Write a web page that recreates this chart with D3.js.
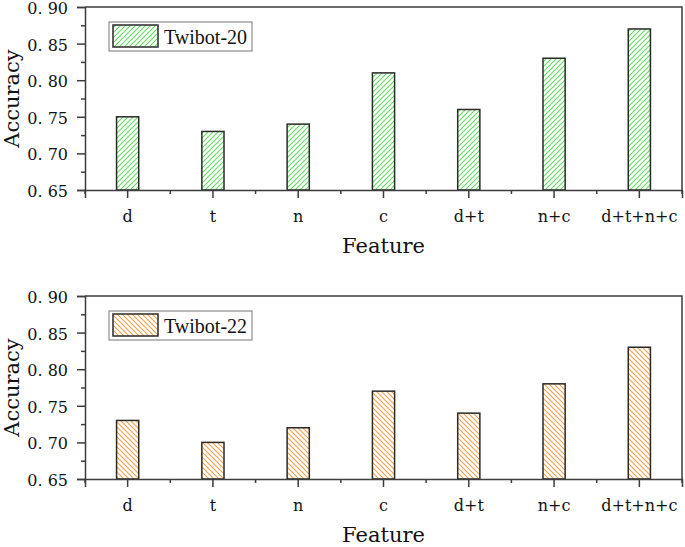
<!DOCTYPE html>
<head>
  <meta charset="utf-8">
  <script src="https://d3js.org/d3.v7.min.js"></script>
  <style>
    body { margin:0; background:#fff; }
    svg { display:block; }
  </style>
</head>
<body>
<script>
  // data
  var features = ["d", "t", "n", "c", "d+t", "n+c", "d+t+n+c"];
  var acc20 = [0.75, 0.73, 0.74, 0.81, 0.76, 0.83, 0.87];
  var acc22 = [0.73, 0.70, 0.72, 0.77, 0.74, 0.78, 0.83];
  var yTicks = [0.65, 0.70, 0.75, 0.80, 0.85, 0.90];
  var yMinor = [0.675, 0.725, 0.775, 0.825, 0.875];

  var width = 685, height = 547;
  var axisCol = "#3c3c3c";

  var svg = d3.select("body").append("svg")
    .attr("width", width)
    .attr("height", height);

  var defs = svg.append("defs");

  function hatch(id, color, dir) {
    var p = defs.append("pattern")
      .attr("id", id)
      .attr("patternUnits", "userSpaceOnUse")
      .attr("width", 5)
      .attr("height", 5);
    p.append("rect").attr("width", 5).attr("height", 5).attr("fill", "#fff");
    var d = dir == "/" ? "M-1,1 l2,-2 M0,5 l5,-5 M4,6 l2,-2"
                       : "M-1,4 l2,2 M0,0 l5,5 M4,-1 l2,2";
    p.append("path").attr("d", d)
      .attr("stroke", color).attr("stroke-width", 1.1);
  }
  hatch("hatchG", "#63dc63", "/");
  hatch("hatchO", "#f4a04e", "\\");

  var x = d3.scaleBand()
    .domain(features)
    .range([85, 682])
    .paddingInner(0)
    .paddingOuter(0);

  function panel(top, values, fillId, legendText) {
    var bottom = top + 183;
    var y = d3.scaleLinear().domain([0.65, 0.90]).range([bottom, top]);
    var g = svg.append("g");

    // frame top / right
    g.append("path")
      .attr("d", "M" + x.range()[0] + "," + y(0.90) + "H" + x.range()[1] + "V" + y(0.65))
      .attr("fill", "none").attr("stroke", axisCol).attr("stroke-width", 1.5);

    // bars
    var bw = x.bandwidth() * 0.26;
    g.selectAll(".bar")
      .data(values)
      .enter().append("rect")
      .attr("class", "bar")
      .attr("x", function(d, i) { return x(features[i]) + x.bandwidth() / 2 - bw / 2; })
      .attr("y", function(d) { return y(d); })
      .attr("width", bw)
      .attr("height", function(d) { return y(0.65) - y(d); })
      .attr("fill", "url(#" + fillId + ")")
      .attr("stroke", "#2a2a2a")
      .attr("stroke-width", 1.5);

    // y axis
    var yAx = g.append("g")
      .attr("transform", "translate(" + x.range()[0] + ",0)")
      .call(d3.axisLeft(y).tickValues(yTicks).tickSize(8).tickPadding(9)
        .tickFormat(function(d) { return d3.format(".2f")(d).replace(".", ". "); }));
    g.append("g")
      .attr("transform", "translate(" + x.range()[0] + ",0)")
      .call(d3.axisLeft(y).tickValues(yMinor).tickSize(4).tickFormat(""))
      .select(".domain").remove();

    // x axis
    var xAx = g.append("g")
      .attr("transform", "translate(0," + bottom + ")")
      .call(d3.axisBottom(x).tickSize(8).tickPadding(13));
    var edges = features.map(function(f) { return x(f); }).concat([x.range()[1]]);
    g.append("g")
      .attr("transform", "translate(0," + bottom + ")")
      .selectAll("line").data(edges).enter().append("line")
      .attr("x1", function(d) { return d; }).attr("x2", function(d) { return d; })
      .attr("y1", 0).attr("y2", 4)
      .attr("stroke", axisCol).attr("stroke-width", 1.5);

    g.selectAll(".domain").attr("stroke", axisCol).attr("stroke-width", 1.5);
    g.selectAll(".tick line").attr("stroke", axisCol).attr("stroke-width", 1.5);
    yAx.selectAll("text")
      .attr("dy", "0.4em")
      .attr("font-family", "DejaVu Serif").attr("font-size", 16).attr("fill", "#111");
    xAx.selectAll("text")
      .attr("font-family", "DejaVu Serif").attr("font-size", 16).attr("fill", "#111");

    // axis titles
    g.append("text")
      .attr("transform", "translate(19," + (top + bottom) / 2 + ") rotate(-90)")
      .attr("text-anchor", "middle")
      .attr("font-family", "DejaVu Serif").attr("font-size", 21).attr("fill", "#111")
      .text("Accuracy");
    g.append("text")
      .attr("x", (x.range()[0] + x.range()[1]) / 2)
      .attr("y", bottom + 63)
      .attr("text-anchor", "middle")
      .attr("font-family", "DejaVu Serif").attr("font-size", 21).attr("fill", "#111")
      .text("Feature");

    // legend
    var lg = g.append("g").attr("transform", "translate(109," + (top + 15) + ")");
    lg.append("rect")
      .attr("width", 143).attr("height", 29)
      .attr("fill", "#fff").attr("stroke", "#777").attr("stroke-width", 1);
    lg.append("rect")
      .attr("x", 4).attr("y", 3).attr("width", 45).attr("height", 22)
      .attr("fill", "url(#" + fillId + ")")
      .attr("stroke", "#2a2a2a").attr("stroke-width", 1.5);
    lg.append("text")
      .attr("x", 55).attr("y", 22)
      .attr("font-family", "Liberation Serif").attr("font-size", 20).attr("fill", "#111")
      .text(legendText);
  }

  panel(7, acc20, "hatchG", "Twibot-20");
  panel(296, acc22, "hatchO", "Twibot-22");
</script>
</body>
